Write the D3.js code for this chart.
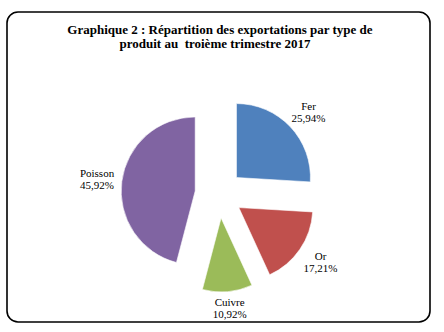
<!DOCTYPE html>
<html><head><meta charset="utf-8">
<script src="https://cdn.jsdelivr.net/npm/d3@7"></script>
<style>html,body{margin:0;padding:0;background:#fff;}svg{display:block;}</style>
</head><body>
<svg id="c" width="444" height="332"></svg>
<script>
const categories = ["Fer", "Or", "Cuivre", "Poisson"];
const values = [25.94, 17.21, 10.92, 45.92];
const labels = ["25,94%", "17,21%", "10,92%", "45,92%"];
const colors = ["#4F81BD", "#C0504D", "#9BBB59", "#8064A2"];
const titleLines = ["Graphique 2 : Répartition des exportations par type de", "produit au  troième trimestre 2017"];

const svg = d3.select("#c");

svg.append("rect").attr("x", 7).attr("y", 12).attr("width", 423).attr("height", 310)
  .attr("rx", 11).attr("ry", 11).attr("fill", "#fff").attr("stroke", "#000").attr("stroke-width", 1.6);

const title = svg.append("text").attr("font-family", "Liberation Serif, Times New Roman, serif")
  .attr("font-weight", "bold").attr("font-size", 13).attr("fill", "#000")
  .attr("text-anchor", "middle").style("white-space", "pre");
title.append("tspan").attr("x", 220).attr("y", 34).text(titleLines[0]);
title.append("tspan").attr("x", 215).attr("y", 48).text(titleLines[1]);

const cx = 219, cy = 194, r = 74, explode = 24;
const pie = d3.pie().sort(null).value(d => d.v);
const data = pie(categories.map((c, i) => ({c, v: values[i], l: labels[i], col: colors[i]})));
const arc = d3.arc().innerRadius(0).outerRadius(r);

const g = svg.append("g").attr("transform", `translate(${cx},${cy})`);
data.forEach(d => {
  const m = (d.startAngle + d.endAngle) / 2;
  const dx = Math.sin(m) * explode, dy = -Math.cos(m) * explode;
  g.append("path").attr("d", arc(d)).attr("transform", `translate(${dx},${dy})`)
    .attr("fill", d.data.col).attr("stroke", "#fff").attr("stroke-width", 0.6);
});

const R0 = 106, lw = 17, lh = 14, lineGap = 12.5;
const maxBaseline = 318 - cy; // keep labels inside the plot area
data.forEach(d => {
  const m = (d.startAngle + d.endAngle) / 2;
  const s = Math.sin(m), c = -Math.cos(m);
  const x = s * (R0 + lw);
  let y1 = c * (R0 + lh) - 2;
  if (y1 + lineGap > maxBaseline) y1 = maxBaseline - lineGap;
  const t = g.append("text").attr("font-family", "Liberation Serif, Times New Roman, serif")
    .attr("font-size", 11).attr("fill", "#000").attr("text-anchor", "middle");
  t.append("tspan").attr("x", x).attr("y", y1).text(d.data.c);
  t.append("tspan").attr("x", x).attr("y", y1 + lineGap).text(d.data.l);
});
</script>
</body></html>
